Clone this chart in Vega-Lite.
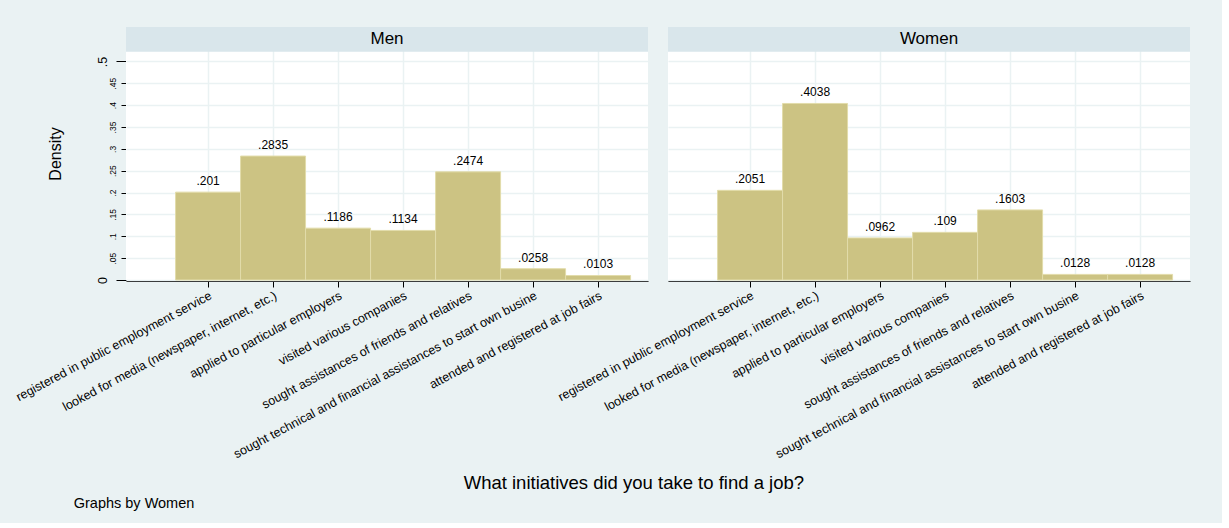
{
  "$schema": "https://vega.github.io/schema/vega-lite/v6.json",
  "background": "#EAF2F3",
  "padding": {"left": 13, "top": 27, "right": 32, "bottom": 12},
  "config": {
    "font": "Liberation Sans",
    "view": {"fill": "white", "stroke": null},
    "axis": {"labelColor": "black", "titleColor": "black", "domainColor": "black", "tickColor": "black", "labelFont": "Liberation Sans", "titleFont": "Liberation Sans", "titleFontWeight": "normal", "gridColor": "#EAF2F3", "gridWidth": 1.5},
    "title": {"font": "Liberation Sans", "fontWeight": "normal", "color": "black"}
  },
  "title": {"text": "Graphs by Women", "orient": "bottom", "anchor": "start", "frame": "bounds", "fontSize": 14.5, "dx": 60, "offset": 4},
  "vconcat": [{
    "data": {"values": [
      {"sex": "Men", "k": 1, "label": "registered in public employment service", "density": 0.201},
      {"sex": "Men", "k": 2, "label": "looked for media (newspaper, internet, etc.)", "density": 0.2835},
      {"sex": "Men", "k": 3, "label": "applied to particular employers", "density": 0.1186},
      {"sex": "Men", "k": 4, "label": "visited various companies", "density": 0.1134},
      {"sex": "Men", "k": 5, "label": "sought assistances of friends and relatives", "density": 0.2474},
      {"sex": "Men", "k": 6, "label": "sought technical and financial assistances to start own busine", "density": 0.0258},
      {"sex": "Men", "k": 7, "label": "attended and registered at job fairs", "density": 0.0103},
      {"sex": "Women", "k": 1, "label": "registered in public employment service", "density": 0.2051},
      {"sex": "Women", "k": 2, "label": "looked for media (newspaper, internet, etc.)", "density": 0.4038},
      {"sex": "Women", "k": 3, "label": "applied to particular employers", "density": 0.0962},
      {"sex": "Women", "k": 4, "label": "visited various companies", "density": 0.109},
      {"sex": "Women", "k": 5, "label": "sought assistances of friends and relatives", "density": 0.1603},
      {"sex": "Women", "k": 6, "label": "sought technical and financial assistances to start own busine", "density": 0.0128},
      {"sex": "Women", "k": 7, "label": "attended and registered at job fairs", "density": 0.0128}
    ]},
    "transform": [{"calculate": "substring(format(datum.density, '.4~f'), 1)", "as": "lab"}],
    "facet": {"column": {"field": "sex", "type": "nominal", "header": null, "sort": ["Men", "Women"]}},
    "spacing": {"column": 20},
    "title": {"text": "What initiatives did you take to find a job?", "orient": "bottom", "anchor": "middle", "frame": "bounds", "fontSize": 18.5, "dx": 32, "offset": 14},
    "spec": {
      "width": 522,
      "height": 253,
      "layer": [
        {
          "mark": {"type": "bar", "fill": "#CCC383", "stroke": "#E2DCAA", "strokeWidth": 1},
          "encoding": {
            "x": {"field": "label", "type": "nominal", "sort": {"field": "k", "op": "min"},
              "scale": {"paddingInner": 0, "paddingOuter": 0.515, "align": 0.74},
              "axis": {"title": null, "labelAngle": -28, "labelFontSize": 12.5, "labelLimit": 400, "tickSize": 6, "grid": true}},
            "y": {"field": "density", "type": "quantitative", "scale": {"domain": [0, 0.5787], "nice": false},
              "axis": {"title": "Density", "values": [0, 0.05, 0.1, 0.15, 0.2, 0.25, 0.3, 0.35, 0.4, 0.45, 0.5], "labelAngle": -90, "labelOverlap": false, "labelBound": false,
                "labelExpr": "datum.value == 0 ? '0' : substring(format(datum.value, '.2~f'), 1)",
                "labelFontSize": {"condition": {"test": "datum.value == 0 || datum.value == 0.5", "value": 12.5}, "value": 8.5},
                "labelPadding": {"condition": {"test": "datum.value == 0 || datum.value == 0.5", "value": 7}, "value": 4},
                "tickSize": {"condition": {"test": "datum.value == 0 || datum.value == 0.5", "value": 10}, "value": 5},
                "titleFontSize": 16, "titlePadding": 33}}
          }
        },
        {
          "mark": {"type": "text", "baseline": "alphabetic", "dy": -7, "fontSize": 12, "color": "black"},
          "encoding": {
            "x": {"field": "label", "type": "nominal", "sort": {"field": "k", "op": "min"}},
            "y": {"field": "density", "type": "quantitative",
              "axis": {"title": "Density", "values": [0, 0.05, 0.1, 0.15, 0.2, 0.25, 0.3, 0.35, 0.4, 0.45, 0.5], "labelAngle": -90, "labelOverlap": false, "labelBound": false,
                "labelExpr": "datum.value == 0 ? '0' : substring(format(datum.value, '.2~f'), 1)",
                "labelFontSize": {"condition": {"test": "datum.value == 0 || datum.value == 0.5", "value": 12.5}, "value": 8.5},
                "labelPadding": {"condition": {"test": "datum.value == 0 || datum.value == 0.5", "value": 7}, "value": 4},
                "tickSize": {"condition": {"test": "datum.value == 0 || datum.value == 0.5", "value": 10}, "value": 5},
                "titleFontSize": 16, "titlePadding": 33}},
            "text": {"field": "lab"}
          }
        },
        {
          "transform": [{"filter": "datum.k == 1"}],
          "mark": {"type": "rect", "fill": "#D9E6EB"},
          "encoding": {
            "y": {"datum": 0.5222, "type": "quantitative",
              "axis": {"title": "Density", "values": [0, 0.05, 0.1, 0.15, 0.2, 0.25, 0.3, 0.35, 0.4, 0.45, 0.5], "labelAngle": -90, "labelOverlap": false, "labelBound": false,
                "labelExpr": "datum.value == 0 ? '0' : substring(format(datum.value, '.2~f'), 1)",
                "labelFontSize": {"condition": {"test": "datum.value == 0 || datum.value == 0.5", "value": 12.5}, "value": 8.5},
                "labelPadding": {"condition": {"test": "datum.value == 0 || datum.value == 0.5", "value": 7}, "value": 4},
                "tickSize": {"condition": {"test": "datum.value == 0 || datum.value == 0.5", "value": 10}, "value": 5},
                "titleFontSize": 16, "titlePadding": 33}},
            "y2": {"datum": 0.5787}
          }
        },
        {
          "transform": [{"filter": "datum.k == 1"}],
          "mark": {"type": "text", "fontSize": 17, "color": "black", "baseline": "middle"},
          "encoding": {
            "y": {"datum": 0.5505, "type": "quantitative",
              "axis": {"title": "Density", "values": [0, 0.05, 0.1, 0.15, 0.2, 0.25, 0.3, 0.35, 0.4, 0.45, 0.5], "labelAngle": -90, "labelOverlap": false, "labelBound": false,
                "labelExpr": "datum.value == 0 ? '0' : substring(format(datum.value, '.2~f'), 1)",
                "labelFontSize": {"condition": {"test": "datum.value == 0 || datum.value == 0.5", "value": 12.5}, "value": 8.5},
                "labelPadding": {"condition": {"test": "datum.value == 0 || datum.value == 0.5", "value": 7}, "value": 4},
                "tickSize": {"condition": {"test": "datum.value == 0 || datum.value == 0.5", "value": 10}, "value": 5},
                "titleFontSize": 16, "titlePadding": 33}},
            "text": {"field": "sex"}
          }
        }
      ]
    }
  }]
}
